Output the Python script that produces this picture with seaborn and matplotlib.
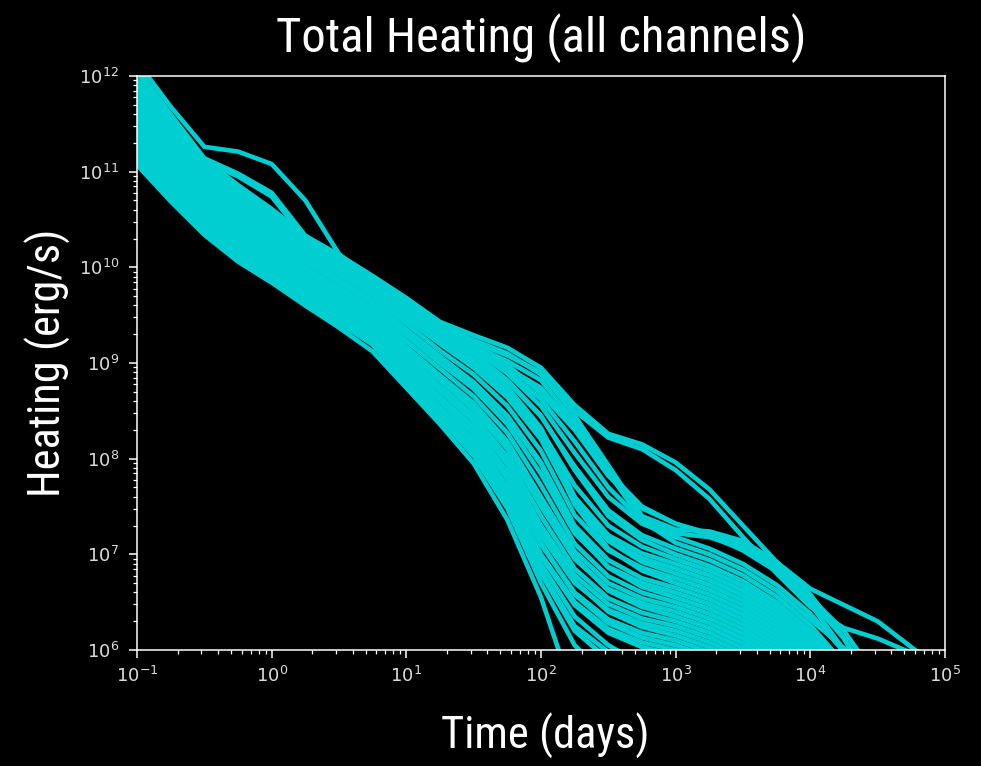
import numpy as np
import pandas as pd
import matplotlib
matplotlib.use("Agg")
import matplotlib.pyplot as plt
from matplotlib import font_manager as fm
import seaborn as sns
from matplotlib.ticker import LogLocator, NullFormatter

# Sampling times, log10(days)
LOG_T = [-1.0, -0.75, -0.5, -0.25, 0.0, 0.25, 0.5, 0.75, 1.0, 1.25, 1.5, 1.75,
         2.0, 2.25, 2.5, 2.75, 3.0, 3.25, 3.5, 3.75, 4.0, 4.25, 4.5, 4.75, 5.0]

# log10 total heating rate (erg/s) for each model run, sampled on LOG_T
run_c00 = [11.95, 11.50, 11.12, 10.85, 10.60, 10.32, 10.12, 9.90, 9.66, 9.42, 9.20, 8.98, 8.68, 8.30, 7.82, 7.48, 7.32, 7.20, 7.04, 6.82, 6.52, 6.12, 5.6]
run_c01 = [11.91, 11.46, 11.08, 10.81, 10.56, 10.28, 10.08, 9.86, 9.61, 9.37, 9.14, 8.89, 8.55, 8.06, 7.60, 7.32, 7.18, 7.06, 6.90, 6.68, 6.38, 5.98]
run_c02 = [11.86, 11.42, 11.04, 10.77, 10.52, 10.25, 10.05, 9.83, 9.56, 9.31, 9.08, 8.81, 8.44, 7.92, 7.46, 7.20, 7.06, 6.94, 6.78, 6.56, 6.26, 5.86]
run_c03 = [11.82, 11.38, 11.00, 10.73, 10.49, 10.21, 10.01, 9.79, 9.51, 9.26, 9.01, 8.72, 8.30, 7.72, 7.30, 7.08, 6.95, 6.83, 6.67, 6.45, 6.15, 5.75]
run_c04 = [11.77, 11.34, 10.96, 10.69, 10.45, 10.18, 9.97, 9.75, 9.46, 9.20, 8.95, 8.64, 8.20, 7.54, 7.15, 6.96, 6.85, 6.73, 6.57, 6.35, 6.05, 5.65]
run_c05 = [11.72, 11.29, 10.91, 10.64, 10.40, 10.13, 9.93, 9.71, 9.41, 9.13, 8.88, 8.55, 8.08, 7.41, 7.04, 6.86, 6.75, 6.63, 6.47, 6.25, 5.95]
run_c06 = [11.67, 11.24, 10.86, 10.59, 10.36, 10.09, 9.88, 9.66, 9.35, 9.07, 8.80, 8.45, 7.96, 7.30, 6.94, 6.75, 6.65, 6.53, 6.37, 6.15, 5.85]
run_c07 = [11.62, 11.20, 10.81, 10.55, 10.31, 10.05, 9.84, 9.62, 9.29, 9.00, 8.73, 8.36, 7.84, 7.22, 6.87, 6.70, 6.60, 6.48, 6.32, 6.10, 5.8]
run_c08 = [11.56, 11.15, 10.76, 10.50, 10.27, 10.00, 9.79, 9.57, 9.23, 8.94, 8.65, 8.27, 7.72, 7.11, 6.77, 6.60, 6.50, 6.38, 6.22, 6.00, 5.7]
run_c09 = [11.51, 11.10, 10.71, 10.45, 10.22, 9.96, 9.75, 9.53, 9.17, 8.87, 8.58, 8.18, 7.60, 7.03, 6.70, 6.54, 6.45, 6.33, 6.17, 5.95]
run_c10 = [11.47, 11.06, 10.67, 10.41, 10.18, 9.92, 9.71, 9.49, 9.12, 8.82, 8.51, 8.10, 7.50, 6.95, 6.64, 6.49, 6.40, 6.28, 6.12, 5.9]
run_c11 = [11.42, 11.02, 10.63, 10.37, 10.14, 9.89, 9.68, 9.45, 9.07, 8.76, 8.45, 8.02, 7.40, 6.85, 6.54, 6.39, 6.30, 6.18, 6.02, 5.8]
run_c12 = [11.38, 10.98, 10.59, 10.33, 10.11, 9.85, 9.64, 9.41, 9.02, 8.71, 8.39, 7.94, 7.30, 6.78, 6.48, 6.33, 6.25, 6.13, 5.97, 5.75]
run_c13 = [11.33, 10.94, 10.55, 10.29, 10.07, 9.82, 9.60, 9.38, 8.97, 8.65, 8.33, 7.86, 7.20, 6.70, 6.42, 6.28, 6.20, 6.08, 5.92]
run_c14 = [11.29, 10.90, 10.51, 10.25, 10.03, 9.78, 9.57, 9.34, 8.93, 8.60, 8.26, 7.79, 7.10, 6.60, 6.32, 6.18, 6.10, 5.98, 5.82]
run_c15 = [11.25, 10.86, 10.46, 10.21, 9.99, 9.74, 9.53, 9.30, 8.88, 8.54, 8.20, 7.71, 7.00, 6.50, 6.22, 6.08, 6.00, 5.88]
run_c16 = [11.20, 10.82, 10.42, 10.17, 9.95, 9.71, 9.49, 9.26, 8.85, 8.50, 8.14, 7.63, 6.90, 6.35, 6.05, 5.85]
run_c17 = [11.16, 10.78, 10.38, 10.13, 9.92, 9.67, 9.45, 9.23, 8.83, 8.47, 8.10, 7.55, 6.80, 6.20, 5.9]
run_c18 = [11.11, 10.74, 10.35, 10.09, 9.88, 9.64, 9.42, 9.19, 8.79, 8.42, 8.03, 7.48, 6.70, 6.05, 5.7]
run_c19 = [11.07, 10.69, 10.34, 10.06, 9.84, 9.60, 9.37, 9.12, 8.74, 8.36, 7.95, 7.36, 6.55, 5.5]

run_e1 = [11.40, 11.00, 10.61, 10.35, 10.13, 9.87, 9.66, 9.43, 9.04, 8.73, 8.41, 7.96, 7.28, 6.72, 6.40, 6.24, 6.15, 6.03, 5.87]
run_e2 = [11.49, 11.08, 10.69, 10.43, 10.20, 9.94, 9.73, 9.51, 9.15, 8.85, 8.56, 8.16, 7.58, 6.97, 6.62, 6.45, 6.35, 6.23, 6.07, 5.85]
run_e3 = [11.65, 11.22, 10.84, 10.57, 10.34, 10.07, 9.86, 9.64, 9.33, 9.05, 8.78, 8.43, 7.94, 7.25, 6.86, 6.66, 6.55, 6.43, 6.27, 6.05, 5.75]
run_e4 = [11.23, 10.84, 10.44, 10.19, 9.97, 9.72, 9.51, 9.28, 8.86, 8.52, 8.18, 7.69, 6.98, 6.47, 6.18, 6.03, 5.95, 5.8]
run_e5 = [11.80, 11.36, 10.98, 10.71, 10.47, 10.19, 9.99, 9.77, 9.49, 9.24, 8.99, 8.70, 8.28, 7.52, 7.06, 6.83, 6.70, 6.58, 6.42, 6.20, 5.9]
run_e6 = [11.93, 11.48, 11.10, 10.83, 10.58, 10.30, 10.10, 9.88, 9.63, 9.39, 9.16, 8.92, 8.62, 8.18, 7.70, 7.35, 7.12, 7.00, 6.84, 6.62, 6.32, 6.02, 5.7]
run_e7 = [11.18, 10.80, 10.40, 10.15, 9.94, 9.69, 9.47, 9.25, 8.80, 8.45, 8.10, 7.57, 6.82, 6.25, 5.98, 5.8]
run_e8 = [11.31, 10.92, 10.53, 10.27, 10.05, 9.80, 9.59, 9.36, 8.95, 8.62, 8.28, 7.81, 7.12, 6.58, 6.28, 6.13, 6.05, 5.93]

run_a = [12.15, 11.68, 11.26, 11.21, 11.08, 10.70, 10.14, 9.85, 9.58, 9.30, 9.02, 8.68, 8.25, 7.60, 7.20, 7.01, 6.90, 6.78, 6.62, 6.40, 6.10, 5.7]
run_b1 = [12.08, 11.60, 11.14, 10.98, 10.78, 10.33, 10.10, 9.88, 9.62, 9.35, 9.10, 8.82, 8.45, 7.88, 7.40, 7.15, 7.00, 6.88, 6.72, 6.50, 6.20, 5.8]
run_b2 = [12.04, 11.56, 11.11, 10.95, 10.74, 10.30, 10.08, 9.86, 9.60, 9.33, 9.06, 8.75, 8.32, 7.60, 7.14, 6.92, 6.80, 6.68, 6.52, 6.30, 6.00, 5.6]
run_k1 = [11.96, 11.52, 11.13, 10.86, 10.61, 10.33, 10.13, 9.91, 9.68, 9.43, 9.29, 9.16, 8.95, 8.56, 8.26, 8.15, 7.96, 7.68, 7.30, 6.92, 6.64, 6.47, 6.30, 6.03, 5.75]
run_k2 = [11.94, 11.49, 11.11, 10.84, 10.59, 10.31, 10.11, 9.89, 9.66, 9.40, 9.24, 9.10, 8.88, 8.50, 8.22, 8.10, 7.88, 7.58, 7.18, 6.80, 6.45, 6.23, 6.12, 5.97, 5.7]
run_d1 = [11.92, 11.47, 11.09, 10.82, 10.57, 10.29, 10.09, 9.87, 9.64, 9.38, 9.22, 9.08, 8.90, 8.45, 7.93, 7.40, 7.26, 7.24, 7.14, 6.92, 6.58, 6.12, 5.5]
run_d2 = [11.90, 11.45, 11.07, 10.80, 10.55, 10.27, 10.07, 9.85, 9.62, 9.36, 9.18, 9.02, 8.82, 8.38, 7.85, 7.36, 7.22, 7.18, 7.06, 6.85, 6.48, 6.00, 5.6]
run_d3 = [11.89, 11.44, 11.06, 10.79, 10.54, 10.26, 10.06, 9.84, 9.60, 9.34, 9.12, 8.95, 8.74, 8.32, 7.86, 7.50, 7.32, 7.22, 7.10, 6.88, 6.55, 6.20, 5.7]

RUNS = {
    "c00": run_c00, "c01": run_c01, "c02": run_c02, "c03": run_c03, "c04": run_c04,
    "c05": run_c05, "c06": run_c06, "c07": run_c07, "c08": run_c08, "c09": run_c09,
    "c10": run_c10, "c11": run_c11, "c12": run_c12, "c13": run_c13, "c14": run_c14,
    "c15": run_c15, "c16": run_c16, "c17": run_c17, "c18": run_c18, "c19": run_c19,
    "e1": run_e1, "e2": run_e2, "e3": run_e3, "e4": run_e4, "e5": run_e5,
    "e6": run_e6, "e7": run_e7, "e8": run_e8,
    "a": run_a, "b1": run_b1, "b2": run_b2, "k1": run_k1, "k2": run_k2,
    "d1": run_d1, "d2": run_d2, "d3": run_d3,
}

# Long-form table: one row per (run, time)
rows = []
for name, logh in RUNS.items():
    for lt, lh in zip(LOG_T, logh):
        rows.append((name, 10.0 ** lt, 10.0 ** lh))
df = pd.DataFrame(rows, columns=["run", "time", "heating"])

CYAN = "#00CED1"

# Narrow sans-serif for the title and axis labels
available = {f.name for f in fm.fontManager.ttflist}
LABEL_FONT = ["DejaVu Sans"]
for cand in ["Liberation Sans Narrow", "Arial Narrow", "Roboto Condensed",
             "Archivo Narrow", "Asap Condensed"]:
    if cand in available:
        LABEL_FONT = [cand, "DejaVu Sans"]
        break

sns.set_theme(style="ticks")
plt.rcParams.update({
    "figure.facecolor": "black",
    "axes.facecolor": "black",
    "savefig.facecolor": "black",
    "axes.edgecolor": "white",
    "axes.linewidth": 1.1,
    "xtick.color": "white",
    "ytick.color": "white",
    "xtick.labelcolor": "#dcdcdc",
    "ytick.labelcolor": "#dcdcdc",
    "xtick.labelsize": 13,
    "ytick.labelsize": 13,
    "font.family": ["DejaVu Sans"],
})

fig = plt.figure(figsize=(9.81, 7.66), dpi=100)
ax = fig.add_axes([137 / 981, 1 - 650 / 766, 808 / 981, 574 / 766])

sns.lineplot(data=df, x="time", y="heating", units="run", estimator=None,
             color=CYAN, linewidth=3.3, sort=False, legend=False, ax=ax)

ax.set_xscale("log")
ax.set_yscale("log")
ax.set_xlim(1e-1, 1e5)
ax.set_ylim(1e6, 1e12)

for axis in (ax.xaxis, ax.yaxis):
    axis.set_major_locator(LogLocator(base=10, numticks=20))
    axis.set_minor_locator(LogLocator(base=10, subs=np.arange(2, 10), numticks=20))
    axis.set_minor_formatter(NullFormatter())
ax.tick_params(which="major", length=5.5, width=1.1, direction="out")
ax.tick_params(which="minor", length=3, width=0.9, direction="out")
ax.tick_params(axis="x", which="major", pad=6)
ax.tick_params(axis="y", which="major", pad=7.5)
for sp in ax.spines.values():
    sp.set_visible(True)
    sp.set_color("white")

ax.set_title("Total Heating (all channels)", color="white", family=LABEL_FONT,
             fontsize=35, y=1.052, va="center")
ax.set_xlabel("Time (days)", color="white", family=LABEL_FONT, fontsize=32)
ax.set_ylabel("Heating (erg/s)", color="white", family=LABEL_FONT, fontsize=32)
ax.xaxis.set_label_coords(0.505, -0.150)
ax.xaxis.label.set_va("center")
ax.yaxis.set_label_coords(-0.110, 0.5)
ax.yaxis.label.set_va("center")

fig.savefig("out.png", dpi=100, facecolor="black")
